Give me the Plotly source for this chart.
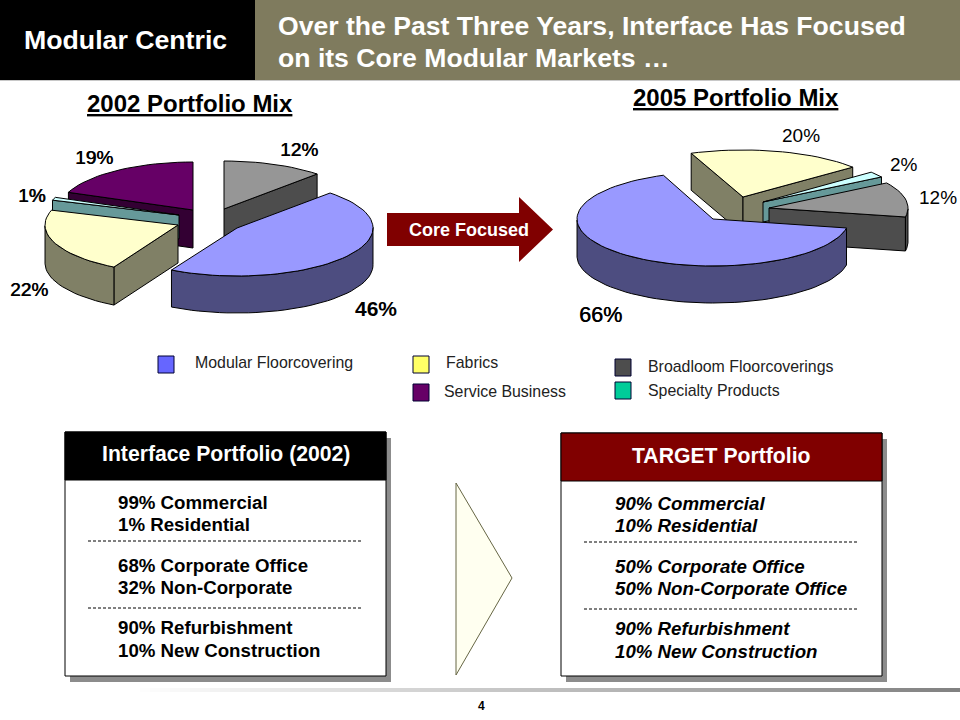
import numpy as np
import plotly.graph_objects as go

# ---- data ----
slices_2002 = ["Broadloom", "Modular", "Fabrics", "Specialty", "Service"]
shares_2002 = [12, 46, 22, 1, 19]
slices_2005 = ["Modular", "Fabrics", "Specialty", "Broadloom"]
shares_2005 = [66, 20, 2, 12]
legend_names = ["Modular Floorcovering", "Fabrics", "Service Business",
                "Broadloom Floorcoverings", "Specialty Products"]
box_2002 = ["99% Commercial", "1% Residential", "68% Corporate Office",
            "32% Non-Corporate", "90% Refurbishment", "10% New Construction"]
box_target = ["90% Commercial", "10% Residential", "50% Corporate Office",
              "50% Non-Corporate Office", "90% Refurbishment", "10% New Construction"]

# ---- styling / geometry ----
TOP = {"Modular": "#9999ff", "Fabrics": "#ffffcc", "Specialty": "#ccffff",
       "Broadloom": "#969696", "Service": "#660066"}
SIDE = {"Modular": "#4d4d80", "Fabrics": "#808066", "Specialty": "#669999",
        "Broadloom": "#4d4d4d", "Service": "#330033"}
# apex (x, y), wall depth and x radius of every exploded slice
GEOM_2002 = {"Broadloom": (224, 209, 27, 136), "Modular": (237, 228, 37, 136), "Fabrics": (178, 225, 38, 133),
             "Specialty": (179, 215, 24, 133), "Service": (193, 210, 38, 134)}
GEOM_2005 = {"Modular": (713, 219, 37, 136), "Fabrics": (743, 197, 37, 142),
             "Specialty": (763, 202, 20, 140), "Broadloom": (769, 208, 34, 139)}
ORDER_2002 = ["Broadloom", "Service", "Specialty", "Fabrics", "Modular"]
ORDER_2005 = ["Fabrics", "Specialty", "Broadloom", "Modular"]
BLACK = "#000000"
FONT = "Liberation Sans"

fig = go.Figure()


def poly(xs, ys, fill):
    fig.add_trace(go.Scatter(x=list(xs), y=list(ys), mode="lines", fill="toself", fillcolor=fill,
                             line=dict(color=BLACK, width=1), hoverinfo="skip", showlegend=False))


def wall(pts, depth, fill):
    xs = [p[0] for p in pts] + [p[0] for p in reversed(pts)]
    ys = [p[1] for p in pts] + [p[1] + depth for p in reversed(pts)]
    poly(xs + xs[:1], ys + ys[:1], fill)


def pie(names, shares, geom, order, start, ry):
    angles = {}
    a = start
    for n, s in zip(names, shares):
        angles[n] = (a, a + s * 3.6)
        a += s * 3.6
    for n in order:
        cx, cy, d, rx = geom[n]
        a0, a1 = angles[n]
        th = np.radians(np.linspace(a0, a1, max(8, int((a1 - a0) / 3))))
        rim = [(cx + rx * np.sin(t), cy - ry * np.cos(t)) for t in th]
        apex = (cx, cy)
        # radial walls facing the viewer
        if rim[0][0] < apex[0]:
            wall([apex, rim[0]], d, SIDE[n])
        if apex[0] < rim[-1][0]:
            wall([rim[-1], apex], d, SIDE[n])
        # outer wall: runs of rim edges heading left on the clockwise walk
        run = []
        for p, q in zip(rim[:-1], rim[1:]):
            if q[0] < p[0]:
                run = run + [q] if run else [p, q]
            elif run:
                wall(run, d, SIDE[n])
                run = []
        if run:
            wall(run, d, SIDE[n])
        pts = [apex] + rim + [apex]
        poly([p[0] for p in pts], [p[1] for p in pts], TOP[n])


pie(slices_2002, shares_2002, GEOM_2002, ORDER_2002, 0, 48)
pie(slices_2005, shares_2005, GEOM_2005, ORDER_2005, 101, 47)

shapes = []
ann = []


def rect(x0, y0, x1, y1, fill, line=None, lw=1):
    shapes.append(dict(type="rect", x0=x0, y0=y0, x1=x1, y1=y1, fillcolor=fill,
                       line=dict(color=line or fill, width=lw if line else 0), layer="below"))


def text(x, y, s, size, color=BLACK, bold=False, anchor="left", italic=False, shadow=None):
    t = f"<b>{s}</b>" if bold else s
    t = f"<i>{t}</i>" if italic else t
    f = dict(family=FONT, size=size, color=color)
    if shadow:
        f["shadow"] = shadow
    ann.append(dict(x=x, y=y, text=t, xref="x", yref="y", showarrow=False, xanchor=anchor,
                    yanchor="middle", font=f, borderpad=0, borderwidth=0))


# header band
rect(0, 0, 255, 80, "#000000")
rect(255, 0, 960, 80, "#7f7b5e")
rect(0, 80, 960, 81, "#c8c8c8")
text(125.5, 40, "Modular Centric", 26.7, "#ffffff", True, "center")
text(278, 26, "Over the Past Three Years, Interface Has Focused", 26.6, "#ffffff", True)
text(278, 58, "on its Core Modular Markets …", 26.6, "#ffffff", True)

# pie titles
text(190, 103, "<u>2002 Portfolio Mix</u>", 24, BLACK, True, "center")
text(736, 97, "<u>2005 Portfolio Mix</u>", 24, BLACK, True, "center")

# pie labels
SH = "0.6px 0 0 #000000"
for s, x, y, sz, b, sh in [(shares_2002[0], 299, 149, 19, False, SH), (shares_2002[4], 94, 157, 19, False, SH),
                           (shares_2002[3], 32, 195, 19, False, SH), (shares_2002[2], 29, 289, 19, False, SH),
                           (shares_2002[1], 376, 308, 21, True, None), (shares_2005[1], 801, 135, 19, False, None),
                           (shares_2005[2], 904, 164, 19, False, None), (shares_2005[3], 938, 197, 19, False, None),
                           (shares_2005[0], 600, 315, 21.5, False, SH)]:
    text(x, y, f"{s}%", sz, BLACK, b, "center", shadow=sh)

# arrow
shapes.append(dict(type="path", path="M387,213 L519,213 L519,197 L553,229.5 L519,262 L519,246 L387,246 Z",
                   fillcolor="#800000", line=dict(color="#800000", width=0), layer="below"))
text(469, 230, "Core Focused", 18, "#ffffff", True, "center")

# legend
LEG = [(158, 356, "#6666ff", 195, 362), (413, 356, "#ffff66", 446, 362), (413, 384, "#660066", 444, 391),
       (615, 359, "#4d4d4d", 648, 366), (615, 382, "#00cc99", 648, 390)]
for (x, y, c, tx, ty), n in zip(LEG, legend_names):
    rect(x, y, x + 16, y + 17, c, "#000033", 1)
    text(tx, ty, n, 15.9, "#222222")

# boxes
for (l, r, t, hb, b, hc, label, lines, xt, ys, dash, it) in [
    (65, 386, 432, 480, 676, "#000000", "Interface Portfolio (2002)", box_2002, 118,
     [502, 524, 565, 587, 627, 650], [(88, 363, 541), (88, 363, 608)], False),
    (561, 882, 433, 481, 676, "#800000", "TARGET Portfolio", box_target, 615,
     [503, 525, 566, 588, 628, 651], [(584, 859, 542), (584, 859, 609)], True),
]:
    rect(l + 5, t + 6, r + 5, b + 6, "#8c8c8c")
    rect(l, t, r, b, "#ffffff", "#000000", 1)
    rect(l, t, r, hb, hc, "#000000", 1)
    text((l + r) / 2, (t + hb) / 2 - 2, label, 21.2, "#ffffff", True, "center")
    for s, y in zip(lines, ys):
        text(xt, y, s, 18.7, BLACK, True, italic=it)
    for x0, x1, y in dash:
        shapes.append(dict(type="line", x0=x0, x1=x1, y0=y, y1=y,
                           line=dict(color="#000000", width=1, dash="3px,2px"), layer="below"))

# triangle
shapes.append(dict(type="path", path="M456,483 L512,578 L456,675 Z", fillcolor="#fffff0",
                   line=dict(color="#666644", width=1), layer="below"))

# footer fade line
edges = np.linspace(130, 960, 84)
for x0, x1 in zip(edges[:-1], edges[1:]):
    v = int(255 - (255 - 128) * ((x0 - 130) / 830))
    rect(x0, 688, x1 + 0.5, 692, f"rgb({v},{v},{v})")
text(481, 706, "4", 12, BLACK, True, "center")

fig.update_layout(width=960, height=720, margin=dict(l=0, r=0, t=0, b=0),
                  paper_bgcolor="#ffffff", plot_bgcolor="#ffffff", showlegend=False,
                  xaxis=dict(range=[0, 960], visible=False, fixedrange=True),
                  yaxis=dict(range=[720, 0], visible=False, fixedrange=True),
                  shapes=shapes, annotations=ann)
fig.write_html("out.html", config=dict(displayModeBar=False),
               post_script="document.body.style.margin='0';")
